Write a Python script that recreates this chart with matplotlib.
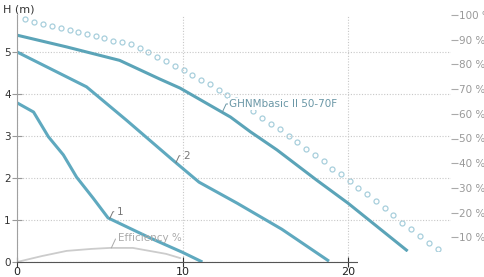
import numpy as np
import matplotlib
matplotlib.use('Agg')
import matplotlib.pyplot as plt
from matplotlib.patches import Rectangle

# pump curves, flow on x, head H (m) on y
ghnm_q = [0, 3.0, 6.2, 8.6, 9.85, 12.9, 14.1, 15.7, 18.1, 20.0, 23.6]
ghnm_h = [5.40, 5.12, 4.80, 4.36, 4.14, 3.45, 3.10, 2.67, 1.95, 1.40, 0.26]

c2_q = [0, 4.2, 6.6, 9.4, 11.0, 13.3, 16.0, 18.85]
c2_h = [5.00, 4.17, 3.38, 2.43, 1.90, 1.40, 0.78, 0.02]

c1_q = [0, 1.0, 1.9, 2.8, 3.6, 4.6, 5.5, 8.0, 10.0, 11.2]
c1_h = [3.79, 3.57, 2.98, 2.55, 2.02, 1.52, 1.05, 0.58, 0.23, 0.0]

# efficiency (%), right axis
eff_q = [0, 1.5, 3.0, 4.5, 5.6, 7.0, 8.0, 9.0, 9.85]
eff_pct = [0, 2.4, 4.5, 5.3, 5.7, 5.7, 4.5, 3.3, 1.6]

# dotted (hollow circle) curve, right axis
dot_q = [0.48, 1.03, 1.57, 2.11, 2.66, 3.20, 3.69, 4.23, 4.77, 5.26, 5.80, 6.34,
         6.89, 7.43, 7.92, 8.46, 9.00, 9.55, 10.09, 10.57, 11.12, 11.66, 12.21,
         12.69, 13.23, 13.78, 14.26, 14.80, 15.35, 15.89, 16.43, 16.92, 17.46,
         18.01, 18.55, 19.03, 19.58, 20.12, 20.60, 21.15, 21.69, 22.24, 22.72,
         23.26, 23.81, 24.35, 24.89, 25.44]
dot_pct = [98.4, 97.2, 96.3, 95.5, 94.7, 93.9, 93.1, 92.3, 91.5, 90.7, 89.4, 89.0,
           88.2, 86.6, 85.0, 82.9, 81.3, 79.3, 77.6, 75.6, 73.6, 72.0, 69.5,
           67.5, 65.4, 63.4, 61.0, 58.5, 55.7, 53.7, 51.2, 48.4, 45.9,
           43.5, 40.7, 37.8, 35.8, 32.9, 30.1, 27.6, 24.8, 22.0, 19.1,
           15.9, 13.4, 10.6, 7.7, 5.3]

x_ticks = [0, 10, 20]
h_ticks = [0, 1, 2, 3, 4, 5]
pct_ticks = [10, 20, 30, 40, 50, 60, 70, 80, 90, 100]

teal = '#5fa9bf'
W, H = 485, 277
fig = plt.figure(figsize=(W / 100, H / 100), dpi=100)
ax = fig.add_axes([17 / W, 15 / H, (451 - 17) / W, (262 - 15) / H])
ax2 = ax.twinx()
ax.set_zorder(ax2.get_zorder() + 1)
ax.patch.set_visible(False)

ax.set_xlim(0, 26.22)
ax.set_ylim(0, 5.88)
ax2.set_ylim(0, 100)

ax.grid(True, color='#c8c8c8', linestyle=(0, (1, 1.5)), lw=0.8)
ax.set_axisbelow(True)
for s in ['top', 'right']:
    ax.spines[s].set_visible(False)
for s in ax2.spines.values():
    s.set_visible(False)
ax.spines['left'].set_color('#a0a0a0')
ax.spines['bottom'].set_color('#555555')
ax.spines['bottom'].set_bounds(0, 20.6)

ax.set_xticks(x_ticks)
ax.set_yticks(h_ticks)
ax.tick_params(axis='x', direction='inout', length=7, color='#333333',
               labelsize=8, labelcolor='#222222', pad=0)
ax.tick_params(axis='y', direction='inout', length=7, color='#999999',
               labelsize=7.5, labelcolor='#333333', pad=1)
ax2.set_yticks(pct_ticks)
ax2.set_yticklabels([f'{p} %' for p in pct_ticks])
ax2.tick_params(axis='y', direction='out', length=5, color='#aaaaaa',
                labelsize=7.5, labelcolor='#999999', pad=1)

# right-axis series
ax2.plot(dot_q, dot_pct, ls='none', marker='o', ms=3.6, mfc='white',
         mec='#a8cfdc', mew=0.9)
ax2.plot(eff_q, eff_pct, color='#cccccc', lw=1.3)

# head curves
ax.plot(ghnm_q, ghnm_h, color='#5ba4b8', lw=2.2, solid_capstyle='butt')
ax.plot(c2_q, c2_h, color=teal, lw=2.2, solid_capstyle='butt')
ax.plot(c1_q, c1_h, color=teal, lw=2.2, solid_capstyle='butt')

lab_kw = dict(textcoords='offset points', ha='left', va='center', fontsize=7.5)
def label(txt, x, y, dx, dy, col, trans=None, box=False):
    kw = dict(lab_kw)
    if trans is not None:
        kw['xycoords'] = trans
    if box:
        kw['bbox'] = dict(boxstyle='square,pad=0.1', fc='white', ec='none')
    ax.annotate(txt, xy=(x, y), xytext=(dx, dy), color=col,
                arrowprops=dict(arrowstyle='-', color=col, lw=0.7,
                                shrinkA=0, shrinkB=0,
                                connectionstyle='angle,angleA=0,angleB=65'),
                **kw)

label('GHNMbasic II 50-70F', 12.4, float(np.interp(12.4, ghnm_q, ghnm_h)), 5, 6,
      '#6a97a6', box=True)
label('2', 9.6, float(np.interp(9.6, c2_q, c2_h)), 5, 5, '#777777')
label('1', 5.6, float(np.interp(5.6, c1_q, c1_h)), 5, 5, '#777777')
label('Efficiency %', 5.7, float(np.interp(5.7, eff_q, eff_pct)), 5, 7, '#aaaaaa',
      trans=ax2.transData)

fig.text(3 / W, 1 - 10 / H, 'H (m)', fontsize=8, color='#333333', va='center')
fig.patches.append(Rectangle((358 / W, 0), (476 - 358) / W, (277 - 252) / H,
                             transform=fig.transFigure, fc='white', ec='none',
                             zorder=10))

fig.savefig('out.png', dpi=100)
